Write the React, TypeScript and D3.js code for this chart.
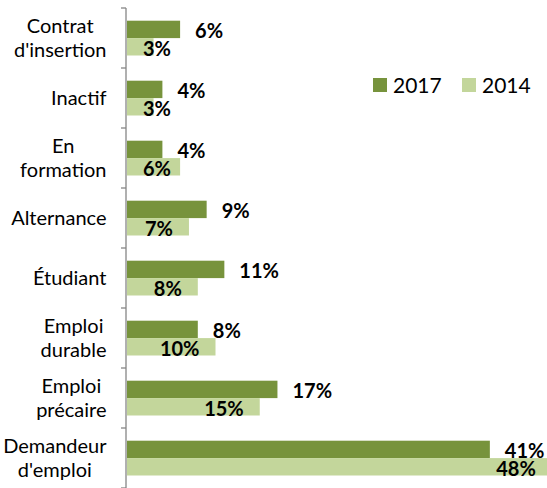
import React, { useEffect, useRef } from "react";
import * as d3 from "d3";

const categories = [
  "Contrat\nd'insertion",
  "Inactif",
  "En\nformation",
  "Alternance",
  "Étudiant",
  "Emploi\ndurable",
  "Emploi\nprécaire",
  "Demandeur\nd'emploi",
];
const series = ["2017", "2014"];
const values2017 = [6, 4, 4, 9, 11, 8, 17, 41];
const values2014 = [3, 3, 6, 7, 8, 10, 15, 48];
const colors = ["#77933C", "#C3D69B"];

const W = 547;
const H = 488;
const FONT = "Lato, 'Open Sans', sans-serif";

export default function App() {
  const ref = useRef<SVGSVGElement>(null);

  useEffect(() => {
    const svg = d3.select(ref.current);
    svg.selectAll("*").remove();

    const axisX = 126;
    const y = d3.scaleBand<string>().domain(categories).range([8, 488]).paddingInner(0).paddingOuter(0);
    const sub = d3.scaleBand<string>().domain(series).range([12.7, 47.5]);
    const x = d3.scaleLinear().domain([0, 48]).range([127, 127 + 48 * 8.85]);

    // bars
    const data = categories.map((c, i) => ({ c, v: [values2017[i], values2014[i]] }));
    const g = svg.append("g");
    data.forEach((d) => {
      series.forEach((s, si) => {
        g.append("rect")
          .attr("x", x(0))
          .attr("y", (y(d.c) as number) + (sub(s) as number))
          .attr("width", x(d.v[si]) - x(0))
          .attr("height", sub.bandwidth())
          .attr("fill", colors[si]);
      });
    });

    // axis
    const ax = svg.append("g").attr("stroke", "#868686").attr("stroke-width", 1.3);
    ax.append("line").attr("x1", axisX).attr("x2", axisX).attr("y1", 8).attr("y2", 488);
    const tickYs = [...categories.map((c) => y(c) as number), 488];
    tickYs.forEach((ty) => {
      ax.append("line").attr("x1", axisX - 5).attr("x2", axisX).attr("y1", ty).attr("y2", ty);
    });

    // value labels
    const fs = 20;
    data.forEach((d) => {
      const b = y(d.c) as number;
      // 2017
      const c0 = b + (sub("2017") as number) + sub.bandwidth() / 2;
      svg.append("text")
        .attr("x", x(d.v[0]) + 15)
        .attr("y", c0 + 1.5 + fs * 0.35)
        .attr("font-family", FONT)
        .attr("font-weight", "bold")
        .attr("font-size", fs)
        .attr("fill", "#000")
        .text(d.v[0] + "%");
      // 2014
      const c1 = b + (sub("2014") as number) + sub.bandwidth() / 2;
      const t = svg.append("text")
        .attr("y", c1 + 2.5 + fs * 0.35)
        .attr("font-family", FONT)
        .attr("font-weight", "bold")
        .attr("font-size", fs)
        .attr("fill", "#000")
        .text(d.v[1] + "%");
      const w = (t.node() as SVGTextElement).getComputedTextLength();
      const left = Math.max(143, x(d.v[1]) - 16 - w);
      t.attr("x", left);
    });

    // category labels
    const cfs = 20;
    categories.forEach((c) => {
      const lines = c.split("\n");
      const center = (y(c) as number) + y.bandwidth() / 2;
      const texts = lines.map((ln, li) =>
        svg.append("text")
          .attr("y", center + (li - (lines.length - 1) / 2) * 24 + cfs * 0.35)
          .attr("font-family", FONT)
          .attr("font-size", cfs)
          .attr("fill", "#000")
          .attr("text-anchor", "middle")
          .text(ln)
      );
      const maxW = d3.max(texts, (t) => (t.node() as SVGTextElement).getComputedTextLength()) || 0;
      texts.forEach((t) => t.attr("x", 106.5 - maxW / 2));
    });

    // legend
    const legX = [373, 462];
    series.forEach((s, si) => {
      svg.append("rect").attr("x", legX[si]).attr("y", 78).attr("width", 14).attr("height", 14).attr("fill", colors[si]);
      svg.append("text")
        .attr("x", legX[si] + 20)
        .attr("y", 92.5)
        .attr("font-family", FONT)
        .attr("font-size", 21)
        .attr("fill", "#000")
        .text(s);
    });
  }, []);

  return (
    <svg
      ref={ref}
      width={W}
      height={H}
      style={{ position: "absolute", left: 0, top: 0, background: "#fff" }}
    />
  );
}
